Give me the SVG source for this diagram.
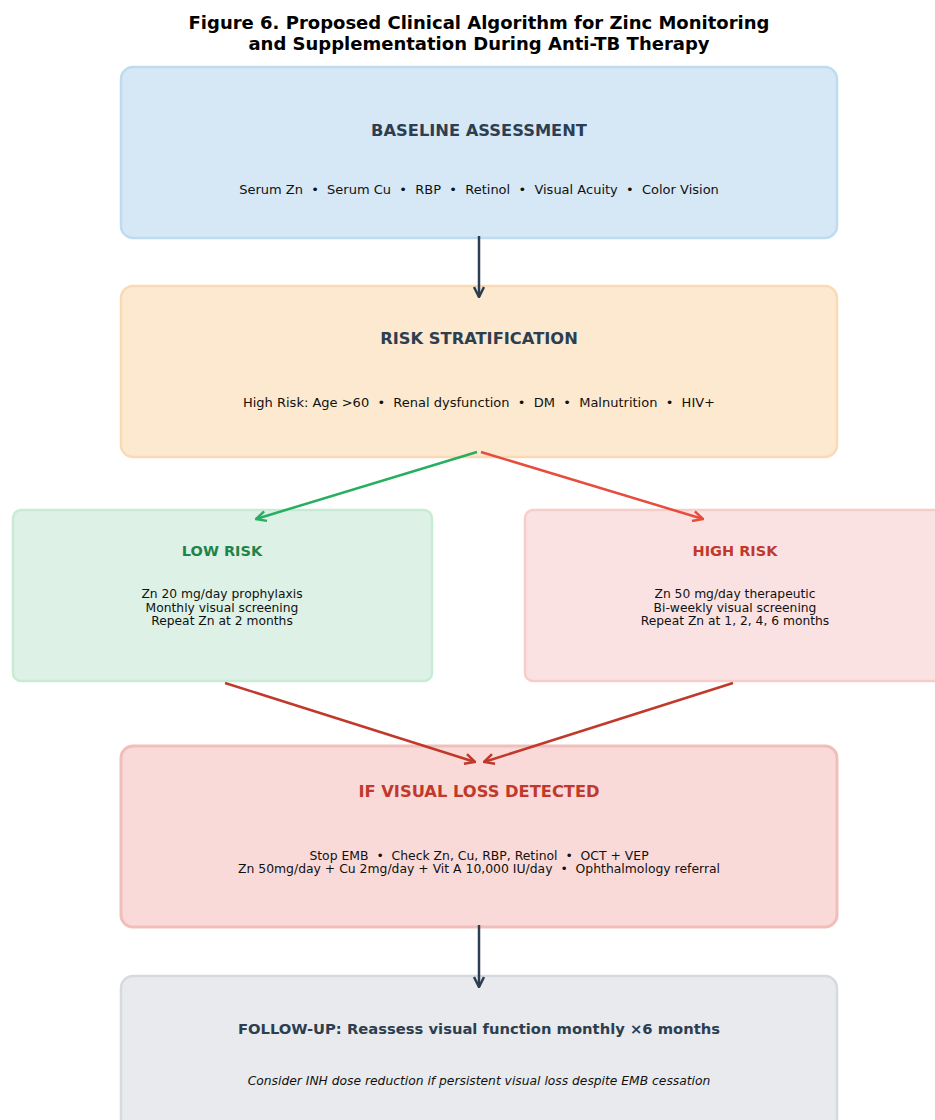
<svg xmlns="http://www.w3.org/2000/svg" width="935" height="1120" viewBox="0 0 935 1120">
<style>
text{font-family:"DejaVu Sans",sans-serif;text-anchor:middle;white-space:pre}
.title{font-size:18px;font-weight:bold;fill:#000}
.h{font-size:16.3px;font-weight:bold;fill:#2c3e50}
.h2{font-size:14.5px;font-weight:bold}
.b{font-size:13px;fill:#111}
.v{font-size:12.4px;fill:#111}
.s{font-size:12.3px;fill:#111}
.box{stroke-width:2.5}
.c{fill:none;stroke-width:2.5}
</style>
<defs>
<marker id="aD" viewBox="0 0 10 10" refX="9" refY="5" markerWidth="5" markerHeight="5" orient="auto" markerUnits="strokeWidth"><path d="M1,1 L9,5 L1,9" fill="none" stroke="#2c3e50" stroke-width="2"/></marker>
<marker id="aG" viewBox="0 0 10 10" refX="9" refY="5" markerWidth="5" markerHeight="5" orient="auto" markerUnits="strokeWidth"><path d="M1,1 L9,5 L1,9" fill="none" stroke="#27ae60" stroke-width="2"/></marker>
<marker id="aR" viewBox="0 0 10 10" refX="9" refY="5" markerWidth="5" markerHeight="5" orient="auto" markerUnits="strokeWidth"><path d="M1,1 L9,5 L1,9" fill="none" stroke="#e74c3c" stroke-width="2"/></marker>
<marker id="aK" viewBox="0 0 10 10" refX="9" refY="5" markerWidth="5" markerHeight="5" orient="auto" markerUnits="strokeWidth"><path d="M1,1 L9,5 L1,9" fill="none" stroke="#c0392b" stroke-width="2"/></marker>
</defs>
<rect width="935" height="1120" fill="#fff"/>
<text class="title" x="479" y="29">Figure 6. Proposed Clinical Algorithm for Zinc Monitoring</text>
<text class="title" x="479" y="50">and Supplementation During Anti-TB Therapy</text>

<g id="baseline">
<rect class="box" x="121" y="67" width="716" height="171" rx="12" fill="#d6e8f6" stroke="#bddcef"/>
<text class="h" x="479" y="136">BASELINE ASSESSMENT</text>
<text class="b" x="479" y="194" xml:space="preserve">Serum Zn  •  Serum Cu  •  RBP  •  Retinol  •  Visual Acuity  •  Color Vision</text>
</g>
<g id="risk">
<rect class="box" x="121" y="286" width="716" height="171" rx="12" fill="#fce9cf" stroke="#f9dab5"/>
<text class="h" x="479" y="344">RISK STRATIFICATION</text>
<text class="b" x="479" y="407" xml:space="preserve">High Risk: Age &gt;60  •  Renal dysfunction  •  DM  •  Malnutrition  •  HIV+</text>
</g>
<g id="low">
<rect class="box" x="13" y="510" width="419" height="171" rx="8" fill="#def1e6" stroke="#c8ebd4"/>
<text class="h2" x="222" y="556" fill="#1e8449">LOW RISK</text>
<text class="s" x="222" y="598">Zn 20 mg/day prophylaxis</text>
<text class="s" x="222" y="612">Monthly visual screening</text>
<text class="s" x="222" y="625">Repeat Zn at 2 months</text>
</g>
<g id="high">
<rect class="box" x="525" y="510" width="420" height="171" rx="8" fill="#fbe2e2" stroke="#f7cdca"/>
<text class="h2" x="735" y="556" fill="#c0392b">HIGH RISK</text>
<text class="s" x="735" y="598">Zn 50 mg/day therapeutic</text>
<text class="s" x="735" y="612">Bi-weekly visual screening</text>
<text class="s" x="735" y="625">Repeat Zn at 1, 2, 4, 6 months</text>
</g>
<g id="visual">
<rect x="121" y="746" width="716" height="181" rx="12" fill="#f9dad8" stroke="#f0bfbb" stroke-width="3"/>
<text class="h" x="479" y="797" style="fill:#c0392b">IF VISUAL LOSS DETECTED</text>
<text class="v" x="479" y="860" xml:space="preserve">Stop EMB  •  Check Zn, Cu, RBP, Retinol  •  OCT + VEP</text>
<text class="v" x="479" y="873" xml:space="preserve">Zn 50mg/day + Cu 2mg/day + Vit A 10,000 IU/day  •  Ophthalmology referral</text>
</g>
<g id="followup">
<rect class="box" x="121" y="976" width="716" height="160" rx="12" fill="#e8eaed" stroke="#d6d9dd"/>
<text class="h" x="479" y="1034" style="font-size:14.75px">FOLLOW-UP: Reassess visual function monthly ×6 months</text>
<text class="v" x="479" y="1085" font-style="italic" style="font-size:12.3px">Consider INH dose reduction if persistent visual loss despite EMB cessation</text>
</g>

<g id="connectors">
<line class="c" x1="479" y1="236" x2="479" y2="297" stroke="#2c3e50" marker-end="url(#aD)"/>
<line class="c" x1="477" y1="452" x2="256" y2="519" stroke="#27ae60" marker-end="url(#aG)"/>
<line class="c" x1="481" y1="452" x2="703" y2="519" stroke="#e74c3c" marker-end="url(#aR)"/>
<line class="c" x1="225" y1="683" x2="475" y2="762" stroke="#c0392b" marker-end="url(#aK)"/>
<line class="c" x1="733" y1="683" x2="484" y2="762" stroke="#c0392b" marker-end="url(#aK)"/>
<line class="c" x1="479" y1="925" x2="479" y2="987" stroke="#2c3e50" marker-end="url(#aD)"/>
</g>
</svg>
